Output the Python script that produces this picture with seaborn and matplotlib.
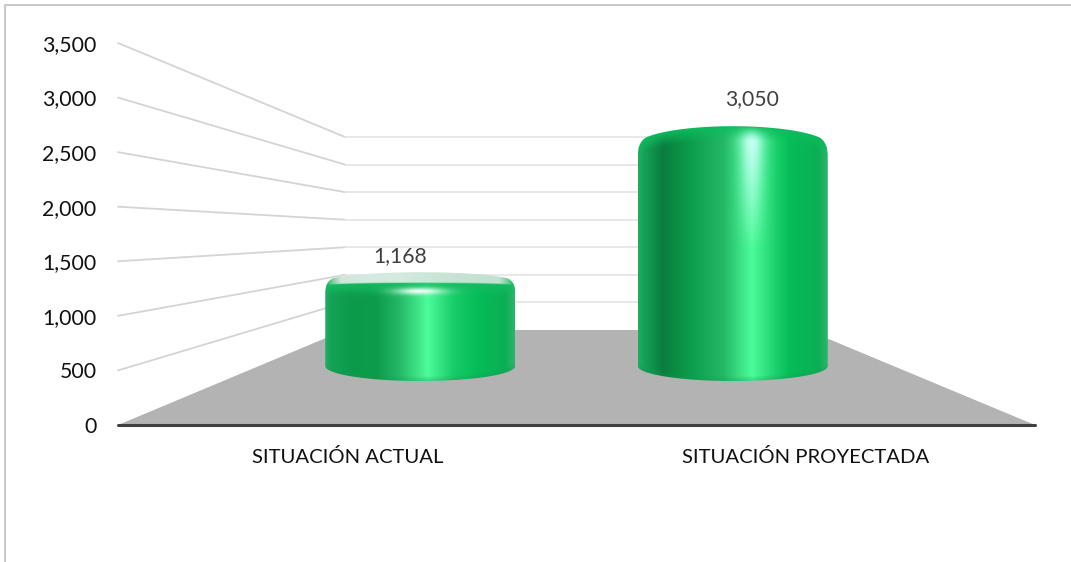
# Cylinder chart: situacion actual vs proyectada
import numpy as np
import pandas as pd
import matplotlib
matplotlib.use("Agg")
import matplotlib.pyplot as plt
from matplotlib.colors import to_rgb
from matplotlib.patches import Polygon
import seaborn as sns

# ── Data ──────────────────────────────────────────────────────────────────────

categories = ["SITUACIÓN ACTUAL", "SITUACIÓN PROYECTADA"]
values = [1168, 3050]
y_ticks = [0, 500, 1000, 1500, 2000, 2500, 3000, 3500]

# ── Setup ─────────────────────────────────────────────────────────────────────

W, H = 1071, 562
sns.set_theme(style="white")
plt.rcParams["font.family"] = ["Lato", "DejaVu Sans"]

fig = plt.figure(figsize=(W / 100, H / 100), dpi=100, facecolor="white")


def add_axes_px(left, right, top, bottom):
    ax = fig.add_axes([left / W, 1 - bottom / H, (right - left) / W, (bottom - top) / H])
    ax.patch.set_alpha(0)
    return ax


# ── Walls and floor (fake 3D box) ─────────────────────────────────────────────

canvas = add_axes_px(0, W, 0, H)
canvas.set_xlim(0, W)
canvas.set_ylim(H, 0)
canvas.axis("off")

FRONT = dict(left=118, right=1035, base=425, top=43)
BACK = dict(left=345, right=807, base=330, top=137)


def wall_y(box, v):
    return box["base"] - v / 3500 * (box["base"] - box["top"])


canvas.plot([5, 5, W], [H, 5, 5], color="#c4c4c4", lw=1.3)
canvas.add_patch(Polygon([(FRONT["left"], FRONT["base"]), (BACK["left"], BACK["base"]),
                          (BACK["right"], BACK["base"]), (FRONT["right"], FRONT["base"])],
                         facecolor="#b3b3b3", edgecolor="none"))
for v in y_ticks[1:]:
    canvas.plot([FRONT["left"], BACK["left"]], [wall_y(FRONT, v), wall_y(BACK, v)],
                color="#d4d4d4", lw=1.3, solid_capstyle="round")
    canvas.plot([BACK["left"], BACK["right"]], [wall_y(BACK, v)] * 2, color="#e2e2e2", lw=1.1)

# ── Cylinders (bars at mid depth of the box) ──────────────────────────────────

mid = add_axes_px(264, 889, 83.2, 410)
df = pd.DataFrame({"situacion": categories, "valor": values})
sns.barplot(data=df, x="situacion", y="valor", width=0.608, color="#0cb050", ax=mid)
mid.set_xlim(-0.5, 1.5)
mid.set_ylim(-500, 3800)
mid.axis("off")

edge_offset = [-1, 5]      # px from value height to where the side meets the top arc
top_rise = [10, 19]        # px height of top arc
pale_cap = [True, False]   # low bar shows its lid
highlight_u = [0.54, 0.60]
left_dark = ["#0c9a4c", "#0a7d3e"]
label_offset = [(-20, 27), (19, 41)]
BOTTOM_EDGE, BOTTOM_RISE = 366, 15
CORNER_PX = 9
BAR_PX = 190


def blend(img, color, amount):
    amount = np.clip(amount, 0, 1)[..., None]
    return img * (1 - amount) + np.array(to_rgb(color)) * amount


def px_to_y(px):
    return mid.transData.inverted().transform(
        (0, fig.bbox.height - px * fig.dpi / 100))[1]


def y_to_px(y):
    return (fig.bbox.height - mid.transData.transform((0, y))[1]) * 100 / fig.dpi


def corner_drop(u):
    # extra drop of the top outline so the shoulders come out rounded
    d = np.clip(1 - np.minimum(u, 1 - u) * BAR_PX / CORNER_PX, 0, 1)
    return CORNER_PX * (1 - np.sqrt(1 - d ** 2))


for i, bar in enumerate(mid.patches):
    x0, bw, val = bar.get_x(), bar.get_width(), bar.get_height()
    bar.set_visible(False)
    hl = highlight_u[i]
    y_edge = y_to_px(val) + edge_offset[i]
    rise = top_rise[i]
    y_top = y_edge - rise
    y_bot = BOTTOM_EDGE + BOTTOM_RISE

    nx, ny = 380, int((y_bot - y_top) * 2)
    u = np.linspace(0, 1, nx)
    py = np.linspace(y_top, y_bot, ny)
    uu, yy = np.meshgrid(u, py)

    # horizontal shading
    stops = [0, 0.03, 0.13, 0.27, hl - 0.15, hl, hl + 0.14, 0.8, 0.95, 1]
    cols = ["#22ad62", "#14a356", left_dark[i], "#0b9c4b", "#24b866",
            "#4dfc9a", "#18cc68", "#05bd58", "#0cae55", "#2db56c"]
    rgb = np.array([to_rgb(c) for c in cols])
    img = np.stack([np.interp(uu, stops, rgb[:, k]) for k in range(3)], axis=-1)

    arc = np.sqrt(np.clip(1 - (2 * uu - 1) ** 2, 0, 1))
    top_arc = y_edge - rise * arc

    if pale_cap[i]:
        # rim, soft spot on the front of the lid, pale lid itself
        img = blend(img, "#14bb60", np.exp(-((yy - y_edge - 3) / 7) ** 2) * 0.8)
        img = blend(img, "#eafff6", np.exp(-((uu - hl + 0.04) / 0.13) ** 2)
                    * np.exp(-((yy - y_edge - 9) / 3.5) ** 2))
        lid = np.clip(y_edge + 1 - yy + 2.5 * (1 - arc), 0, 1) * np.clip((arc - 0.2) / 0.35, 0, 1)
        pale = blend(np.ones_like(img) * np.array(to_rgb("#c3e1d0")), "#d5ebdf",
                     np.exp(-((uu - 0.3) / 0.3) ** 2))
        img = img * (1 - lid[..., None]) + pale * lid[..., None]
    else:
        # dome: flat green near the top, long bright streak
        dome = np.clip(1 - (yy - top_arc) / 14, 0, 1)
        img = blend(img, "#0dbb5e", dome * 0.95)
        img = blend(img, "#c4fff4", np.exp(-((uu - hl) / 0.06) ** 2)
                    * np.clip(1.05 - (yy - y_top - 12) / 105, 0, 1) * (1 - dome))

    # darker band round the base
    base_arc = BOTTOM_EDGE + BOTTOM_RISE * arc
    img = blend(img, "#109a50", np.clip(1 - (base_arc - yy) / 5, 0, 1) * 0.35)

    # outline of the cylinder, in data coordinates
    t = np.linspace(0, 1, 241)
    a = np.sqrt(np.clip(1 - (2 * t - 1) ** 2, 0, 1))
    xs = np.r_[x0 + bw * t, x0 + bw * t[::-1]]
    top_px = y_edge - rise * a + corner_drop(t)
    ys = np.r_[[px_to_y(p) for p in top_px],
               [px_to_y(p) for p in (BOTTOM_EDGE + BOTTOM_RISE * a)[::-1]]]
    outline = Polygon(np.c_[xs, ys], closed=True, facecolor="none", edgecolor="none",
                      transform=mid.transData)
    mid.add_patch(outline)

    im = mid.imshow(img, extent=(x0, x0 + bw, px_to_y(y_bot), px_to_y(y_top)),
                    aspect="auto", origin="upper", interpolation="bilinear", zorder=3)
    im.set_clip_path(outline)

    dx, dy = label_offset[i]
    mid.annotate(f"{val:,.0f}", xy=(x0 + bw / 2, val), xytext=(dx, dy),
                 textcoords="offset pixels", ha="center", va="center",
                 fontsize=15.2, color="#404040", zorder=5, annotation_clip=False)

mid.set_xlim(-0.5, 1.5)
mid.set_ylim(-500, 3800)

# ── Front axis: ticks and category names ──────────────────────────────────────

front = add_axes_px(FRONT["left"], FRONT["right"], FRONT["top"], FRONT["base"])
front.set_xlim(-0.5, 1.5)
front.set_ylim(0, 3500)
front.set_yticks(y_ticks)
front.set_yticklabels([f"{v:,}" for v in y_ticks], fontsize=15.3, color="#111111")
front.set_xticks([0, 1])
front.set_xticklabels(categories, fontsize=14.6, color="#111111")
front.tick_params(axis="y", length=0, pad=15.5)
front.tick_params(axis="x", length=0, pad=16.5)
for side in ["top", "left", "right"]:
    front.spines[side].set_visible(False)
front.spines["bottom"].set_color("#404040")
front.spines["bottom"].set_linewidth(2.2)
front.spines["bottom"].set_capstyle("round")
front.grid(False)

plt.savefig("out.png", dpi=100)
plt.close()
